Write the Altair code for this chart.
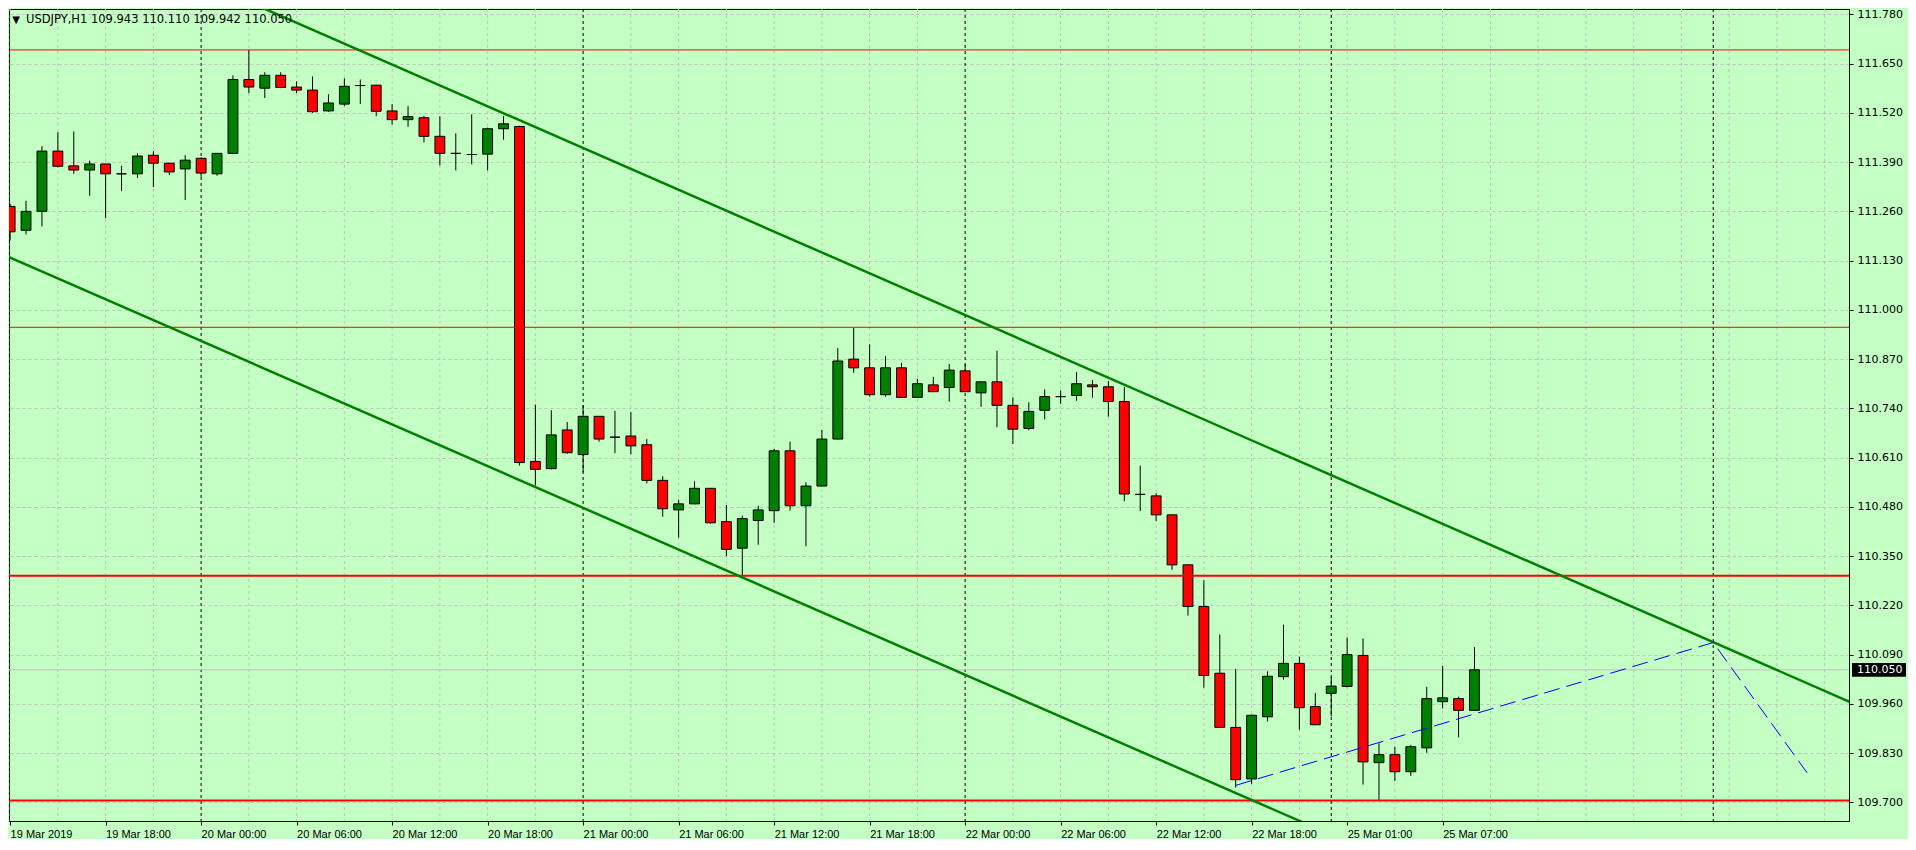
import json
import altair as alt
import pandas as pd

# ---------------- data ----------------
opens = [111.273, 111.210, 111.260, 111.419, 111.380, 111.369, 111.385, 111.359, 111.359, 111.408,
         111.387, 111.372, 111.400, 111.359, 111.413, 111.608, 111.585, 111.619, 111.588, 111.580,
         111.525, 111.543, 111.592, 111.593, 111.525, 111.502, 111.507, 111.458, 111.413, 111.410,
         111.411, 111.478, 111.484, 110.600, 110.581, 110.683, 110.618, 110.719, 110.664, 110.667,
         110.644, 110.550, 110.472, 110.488, 110.529, 110.441, 110.371, 110.444, 110.470, 110.628,
         110.483, 110.535, 110.659, 110.870, 110.847, 110.776, 110.847, 110.769, 110.802, 110.795,
         110.839, 110.781, 110.810, 110.748, 110.687, 110.735, 110.771, 110.774, 110.802, 110.797,
         110.758, 110.513, 110.509, 110.459, 110.327, 110.217, 110.041, 109.898, 109.762, 109.926,
         110.032, 110.067, 109.953, 109.988, 110.006, 110.088, 109.805, 109.826, 109.781, 109.844,
         109.966, 109.974, 109.943]
highs = [111.280, 111.288, 111.432, 111.469, 111.471, 111.394, 111.386, 111.380, 111.413, 111.419,
         111.388, 111.408, 111.402, 111.414, 111.619, 111.686, 111.627, 111.627, 111.603, 111.616,
         111.569, 111.611, 111.608, 111.594, 111.543, 111.538, 111.512, 111.511, 111.466, 111.516,
         111.481, 111.512, 111.486, 110.750, 110.735, 110.704, 110.748, 110.720, 110.733, 110.730,
         110.659, 110.561, 110.499, 110.548, 110.530, 110.485, 110.457, 110.483, 110.633, 110.652,
         110.545, 110.683, 110.899, 110.953, 110.909, 110.878, 110.860, 110.818, 110.823, 110.857,
         110.857, 110.811, 110.892, 110.769, 110.756, 110.790, 110.787, 110.836, 110.815, 110.812,
         110.797, 110.589, 110.516, 110.460, 110.329, 110.286, 110.143, 110.052, 109.932, 110.046,
         110.169, 110.085, 109.989, 110.031, 110.135, 110.133, 109.856, 109.847, 109.852, 110.005,
         110.060, 109.979, 110.110]
lows = [111.183, 111.199, 111.220, 111.376, 111.359, 111.301, 111.242, 111.314, 111.348, 111.324,
        111.356, 111.290, 111.351, 111.354, 111.411, 111.572, 111.559, 111.585, 111.572, 111.520,
        111.523, 111.538, 111.543, 111.511, 111.489, 111.483, 111.442, 111.381, 111.368, 111.384,
        111.368, 111.449, 110.589, 110.536, 110.579, 110.620, 110.571, 110.652, 110.622, 110.619,
        110.542, 110.454, 110.399, 110.487, 110.436, 110.350, 110.298, 110.380, 110.438, 110.470,
        110.376, 110.534, 110.658, 110.834, 110.771, 110.771, 110.768, 110.768, 110.783, 110.758,
        110.783, 110.744, 110.690, 110.646, 110.682, 110.711, 110.752, 110.760, 110.768, 110.718,
        110.495, 110.469, 110.443, 110.314, 110.193, 110.003, 109.897, 109.739, 109.749, 109.914,
        110.024, 109.892, 109.904, 109.927, 110.004, 109.747, 109.705, 109.757, 109.770, 109.831,
        109.948, 109.872, 109.942]
closes = [111.206, 111.260, 111.419, 111.379, 111.369, 111.385, 111.359, 111.359, 111.406, 111.387,
          111.364, 111.395, 111.361, 111.413, 111.608, 111.588, 111.619, 111.587, 111.580, 111.523,
          111.546, 111.590, 111.592, 111.524, 111.502, 111.510, 111.458, 111.413, 111.413, 111.410,
          111.478, 111.491, 110.597, 110.579, 110.670, 110.623, 110.719, 110.659, 110.664, 110.641,
          110.550, 110.475, 110.488, 110.529, 110.438, 110.368, 110.449, 110.472, 110.628, 110.483,
          110.535, 110.659, 110.865, 110.847, 110.776, 110.847, 110.769, 110.805, 110.784, 110.841,
          110.784, 110.810, 110.748, 110.685, 110.732, 110.771, 110.771, 110.805, 110.797, 110.758,
          110.514, 110.513, 110.459, 110.327, 110.217, 110.035, 109.898, 109.760, 109.930, 110.033,
          110.067, 109.950, 109.905, 110.007, 110.090, 109.807, 109.826, 109.781, 109.847, 109.974,
          109.976, 109.943, 110.050]

x_label_idx = [0, 6, 12, 18, 24, 30, 36, 42, 48, 54, 60, 66, 72, 78, 84, 90]
x_labels = ["19 Mar 2019", "19 Mar 18:00", "20 Mar 00:00", "20 Mar 06:00", "20 Mar 12:00",
            "20 Mar 18:00", "21 Mar 00:00", "21 Mar 06:00", "21 Mar 12:00", "21 Mar 18:00",
            "22 Mar 00:00", "22 Mar 06:00", "22 Mar 12:00", "22 Mar 18:00", "25 Mar 01:00",
            "25 Mar 07:00"]
y_ticks = [109.700, 109.830, 109.960, 110.090, 110.220, 110.350, 110.480, 110.610, 110.740,
           110.870, 111.000, 111.130, 111.260, 111.390, 111.520, 111.650, 111.780]
grid_x = [0, 3, 6, 9, 15, 18, 21, 24, 27, 30, 33, 39, 42, 45, 48, 51, 54, 57, 63, 66, 69, 72,
          75, 78, 81, 84, 87, 90, 93, 96, 99, 102, 105, 108, 111, 114]
day_separators = [12, 36, 60, 83, 107]

level_prices = [111.686, 110.954, 110.298, 109.705]
level_widths = [1, 1, 2, 2]

upper_x = [-0.1, 115.6]
upper_y = [112.090, 109.965]
lower_x = [-0.1, 85.0]
lower_y = [111.140, 109.578]
blue_x = [77.0, 107.0, 112.9]
blue_y = [109.745, 110.122, 109.778]

last_price = 110.050
title_text = "USDJPY,H1  109.943 110.110 109.942 110.050"

# ---------------- tables ----------------
candles = pd.DataFrame({
    "i": list(range(len(opens))),
    "open": opens, "high": highs, "low": lows, "close": closes,
})
grid_df = pd.DataFrame({"i": grid_x})
sep_df = pd.DataFrame({"i": day_separators})
lev_df = pd.DataFrame({"p": level_prices, "w": level_widths})
chan_df = pd.DataFrame({
    "i": upper_x + lower_x,
    "p": upper_y + lower_y,
    "line": ["upper"] * len(upper_x) + ["lower"] * len(lower_x),
})
blue_df = pd.DataFrame({"i": blue_x, "p": blue_y})
last_df = pd.DataFrame({"p": [last_price], "t": [f"{last_price:.3f}"]})
title_df = pd.DataFrame({"t": [title_text]})

W, H = 1840, 812
xs = alt.Scale(domain=[-0.07, 115.53], nice=False, zero=False)
ys = alt.Scale(domain=[109.651, 111.794], nice=False, zero=False)

label_expr = json.dumps(x_labels) + "[round(datum.value / 6)]"

x_axis = alt.Axis(values=x_label_idx, labelExpr=label_expr, labelAlign="left",
                  labelBaseline="top", grid=False, tickSize=4, tickColor="black",
                  domainColor="black", labelColor="black", labelFont="Liberation Sans",
                  labelFontSize=11, labelPadding=3, labelOverlap=False, labelFlush=False,
                  title=None)
y_axis = alt.Axis(orient="right", values=y_ticks, format=".3f", grid=True,
                  gridColor="#c0c0c0", gridDash=[3, 3], gridWidth=1, tickSize=4,
                  tickColor="black", domainColor="black", labelColor="black",
                  labelFont="DejaVu Sans", labelFontSize=11, labelPadding=4, title=None)

vgrid = alt.Chart(grid_df).mark_rule(color="#c0c0c0", strokeDash=[3, 3], strokeWidth=1).encode(
    x=alt.X("i:Q", scale=xs, axis=x_axis))

seps = alt.Chart(sep_df).mark_rule(color="black", strokeDash=[3, 3], strokeWidth=1).encode(
    x=alt.X("i:Q", scale=xs))

price_line = alt.Chart(last_df).mark_rule(color="#c0c0c0", strokeWidth=1).encode(
    y=alt.Y("p:Q", scale=ys, axis=y_axis))

wicks = alt.Chart(candles).mark_rule(color="black", strokeWidth=1, clip=True).encode(
    x=alt.X("i:Q", scale=xs),
    y=alt.Y("low:Q", scale=ys, axis=y_axis),
    y2="high:Q",
)

bodies = alt.Chart(candles).transform_calculate(
    x0="datum.i - 0.31", x1="datum.i + 0.31",
    kind="datum.close > datum.open ? 'up' : (datum.close < datum.open ? 'down' : 'flat')",
).mark_rect(stroke="black", strokeWidth=1, clip=True).encode(
    x=alt.X("x0:Q", scale=xs),
    x2="x1:Q",
    y=alt.Y("open:Q", scale=ys),
    y2="close:Q",
    fill=alt.Fill("kind:N", scale=alt.Scale(domain=["up", "down", "flat"],
                                             range=["#008000", "#ff0000", "black"]),
                  legend=None),
)

levels = alt.Chart(lev_df).mark_rule(color="#ff0000").encode(
    y=alt.Y("p:Q", scale=ys),
    strokeWidth=alt.StrokeWidth("w:Q", scale=None, legend=None),
)

channel = alt.Chart(chan_df).mark_line(color="#008000", strokeWidth=2.5, clip=True).encode(
    x=alt.X("i:Q", scale=xs),
    y=alt.Y("p:Q", scale=ys),
    detail="line:N",
)

blue = alt.Chart(blue_df).mark_line(color="#0000ff", strokeWidth=1, strokeDash=[16, 7],
                                    clip=True).encode(
    x=alt.X("i:Q", scale=xs),
    y=alt.Y("p:Q", scale=ys),
    order="i:Q",
)

tri = alt.Chart(title_df).mark_text(text="▼", align="center", baseline="middle",
                                    fontSize=10, font="DejaVu Sans", color="black").encode(
    x=alt.value(7), y=alt.value(11))
title = alt.Chart(title_df).mark_text(align="left", baseline="middle", fontSize=11.5,
                                      font="DejaVu Sans", color="black").encode(
    x=alt.value(17), y=alt.value(11), text="t:N")

box = alt.Chart(last_df).transform_calculate(
    p0="datum.p + 0.018", p1="datum.p - 0.018").mark_rect(color="black").encode(
    x=alt.value(W + 3), x2=alt.value(W + 57),
    y=alt.Y("p0:Q", scale=ys), y2="p1:Q")
box_text = alt.Chart(last_df).mark_text(align="left", baseline="middle", fontSize=11,
                                        font="DejaVu Sans", color="white").encode(
    x=alt.value(W + 8), y=alt.Y("p:Q", scale=ys), text="t:N")

chart = alt.layer(
    vgrid, seps, price_line, wicks, bodies, levels, channel, blue, tri, title, box, box_text
).properties(
    width=W, height=H, padding={"left": 0, "top": 0, "right": 2, "bottom": 0},
    background="#c4ffc4",
).configure_view(
    stroke="black", strokeWidth=1, fill="#c4ffc4"
)

chart.save("out.html", embed_options={"renderer": "svg", "actions": False})
